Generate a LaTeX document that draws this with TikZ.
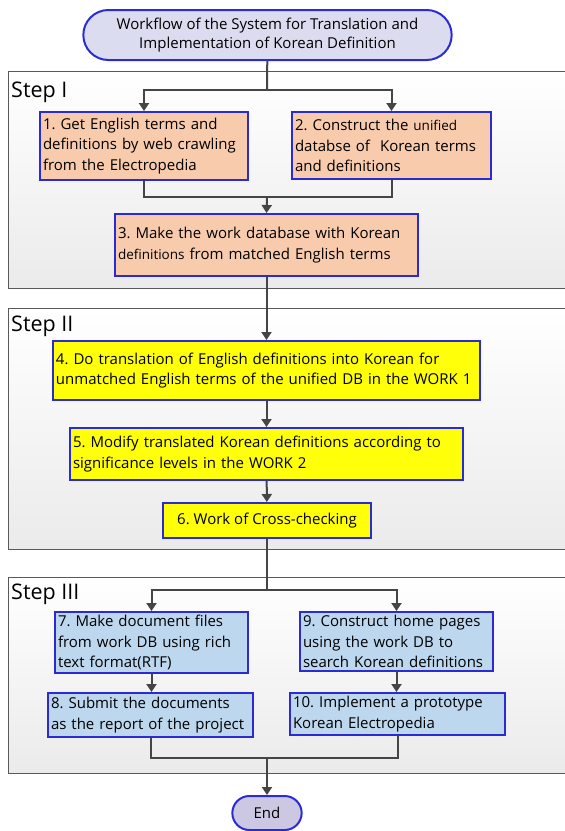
\documentclass[tikz,border=0pt]{standalone}
\usepackage{fontspec}
\setmainfont{Open Sans}
\usetikzlibrary{arrows.meta,shapes.misc}
\frenchspacing

\definecolor{peach}{HTML}{F8CBAD}
\definecolor{lemon}{HTML}{FFFF0A}
\definecolor{skyblue}{HTML}{BDD7EE}
\definecolor{rim}{HTML}{2B2BD6}
\definecolor{lilac}{HTML}{DCDCF0}
\definecolor{endlilac}{HTML}{CCC8E4}
\definecolor{flow}{HTML}{454545}

\newcommand{\smallword}[1]{{\fontsize{13.5}{20}\selectfont #1}}

\tikzset{
 box/.style={draw=rim, line width=2pt, inner xsep=3pt, inner ysep=2pt, align=left,
  font=\fontsize{15}{20.5}\selectfont},
 orange box/.style={box, fill=peach},
 yellow box/.style={box, fill=lemon},
 blue box/.style={box, fill=skyblue},
 pill/.style={draw=rim, line width=2pt, rounded rectangle, align=center,
  font=\fontsize{15}{19}\selectfont},
 frame/.style={draw=black!65, line width=1pt, top color=white, bottom color=black!8},
 steplabel/.style={anchor=west, inner sep=0pt, font=\fontsize{21.5}{23}\selectfont},
 line/.style={draw=flow, line width=2pt},
 arrow/.style={line, -{Triangle[length=8pt,width=10pt]}},
}

\begin{document}
\begin{tikzpicture}[x=1pt,y=-1pt]
 \useasboundingbox (0,0) rectangle (565,831);

 % step frames
 \path[frame] (8,71) rectangle (580,288);
 \path[frame] (8,308) rectangle (580,549);
 \path[frame] (8,577) rectangle (580,773);
 \node[steplabel] (lab1) at (11,92) {Step I};
 \node[steplabel] (lab2) at (11,326) {Step II};
 \node[steplabel] (lab3) at (11,594) {Step III};

 \node[pill, fill=lilac, minimum width=375pt, minimum height=50pt] (title) at (267.5,35)
  {Workflow of the System for Translation and\\Implementation of Korean Definition};

 % Step I
 \node[orange box, text width=202pt, minimum height=68pt] (b1) at (144,146)
  {1. Get English terms and\\definitions by web crawling\\from the Electropedia};
 \node[orange box, text width=193pt, minimum height=67pt] (b2) at (391.5,145.5)
  {2. Construct the \smallword{unified}\\databse of~ Korean terms\\and definitions};
 \node[orange box, text width=297pt, minimum height=62pt] (b3) at (266.5,245)
  {3. Make the work database with Korean\\\smallword{definitions} from matched English terms};

 % Step II
 \node[yellow box, text width=421pt, minimum height=59pt] (b4) at (266.5,370.5)
  {4. Do translation of English definitions into Korean for\\unmatched English terms of the unified DB in the WORK 1};
 \node[yellow box, text width=387pt, minimum height=52pt] (b5) at (266.5,454)
  {5. Modify translated Korean definitions according to\\significance levels in the WORK 2};
 \node[yellow box, align=center, minimum width=208pt, minimum height=35pt] (b6) at (267,520.5)
  {6. Work of Cross-checking};

 % Step III
 \node[blue box, text width=187pt, minimum height=61pt] (b7) at (151.5,642.5)
  {7. Make document files\\from work DB using rich\\text format(RTF)};
 \node[blue box, text width=199pt, minimum height=44pt] (b8) at (150.5,715)
  {8. Submit the documents\\as the report of the project};
 \node[blue box, text width=187pt, minimum height=59pt] (b9) at (396.5,641.5)
  {9. Construct home pages\\using the work DB to\\search Korean definitions};
 \node[blue box, text width=209pt, minimum height=42pt] (b10) at (397.5,714)
  {10. Implement a prototype\\Korean Electropedia};

 \node[pill, fill=endlilac, minimum width=76pt, minimum height=34pt] (end) at (267,813) {End};

 \coordinate (s1) at (267,90);
 \coordinate (m1) at (267,197);
 \coordinate (s3) at (267,590);
 \coordinate (m3) at (267,758);

 \path[line] (title) -- (s1);
 \path[arrow] (s1) -| (b1.north);
 \path[arrow] (s1) -| (b2.north);
 \path[line] (b1.south) |- (m1) -| (b2.south);
 \path[arrow] (m1) -- (b3.north);
 \path[arrow] (b3) -- (b4);
 \path[arrow] (b4) -- (b5);
 \path[arrow] (b5) -- (b6);
 \path[line] (b6) -- (s3);
 \path[arrow] (s3) -| (b7.north);
 \path[arrow] (s3) -| (b9.north);
 \path[arrow] (b7) -- (b7 |- b8.north);
 \path[arrow] (b9) -- (b9 |- b10.north);
 \path[line] (b8.south) |- (m3) -| (b10.south);
 \path[arrow] (m3) -- (end.north);
\end{tikzpicture}
\end{document}
